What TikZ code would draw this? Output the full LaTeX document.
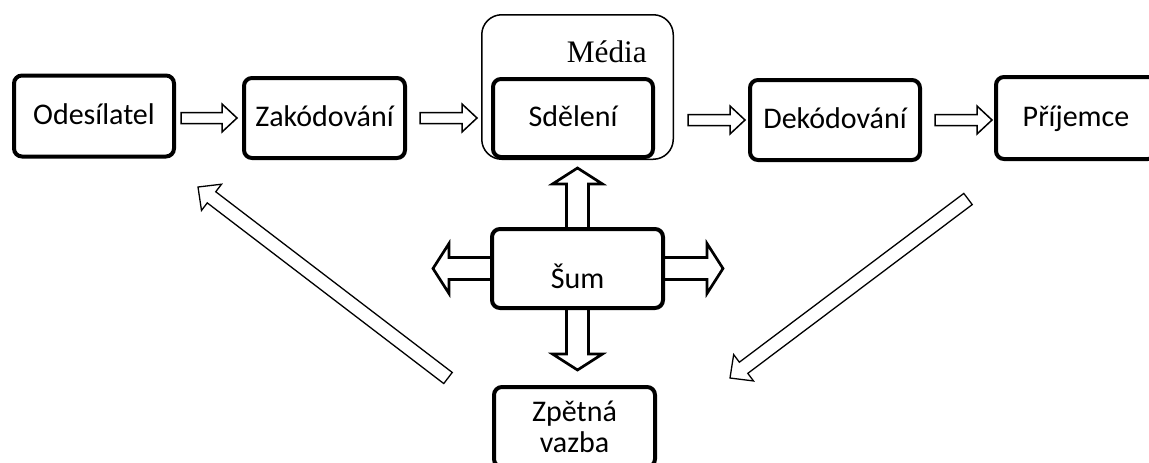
\documentclass[tikz,border=0pt]{standalone}
\usepackage{fontspec}
\setmainfont{Carlito}
\newfontfamily\mediafont{Liberation Serif}
\usetikzlibrary{calc,backgrounds}

\tikzset{
  block/.style={draw, line width=4pt, rounded corners=8pt, fill=white,
    inner sep=0pt, align=center},
  oneline/.style={block, text height=16pt, text depth=0pt},
  flow/.style={draw, line width=1.5pt, fill=white},
  noise/.style={draw, line width=2.7pt, fill=white},
}

\newcommand\blockarrow[5][flow]{%
  \coordinate (ba-s) at ($(#2)!#4!(#3)$);
  \coordinate (ba-e) at ($(#3)!#5!(#2)$);
  \coordinate (ba-h) at ($(ba-e)!\arrlen!(ba-s)$);
  \draw[#1] ($(ba-s)!\arrshaft!90:(ba-e)$) -- ($(ba-h)!\arrshaft!90:(ba-e)$)
    -- ($(ba-h)!\arrhead!90:(ba-e)$) -- (ba-e)
    -- ($(ba-h)!\arrhead!-90:(ba-e)$) -- ($(ba-h)!\arrshaft!-90:(ba-e)$)
    -- ($(ba-s)!\arrshaft!-90:(ba-e)$) -- cycle;
}

\begin{document}
\begin{tikzpicture}[x=1pt, y=-1pt, font=\fontsize{30}{31}\selectfont]
  \useasboundingbox (0,0) rectangle (1149,463);
  \clip (0,0) rectangle (1149,463);

  \node (odes) [oneline, minimum width=160pt, minimum height=81pt] at (94,116) {Odesílatel};
  \node (zak) [oneline, minimum width=161pt, minimum height=80pt] at (324.5,118) {Zakódování};
  \node (media) [draw, line width=1.5pt, rounded corners=20pt,
    minimum width=191.5pt, minimum height=144.5pt] at (577.5,87) {};
  \node (sdel) [oneline, minimum width=160pt, minimum height=78pt] at (573,118) {Sdělení};
  \node (medialabel) [anchor=base east, inner sep=0pt,
    font={\mediafont\fontsize{31.3}{36}\selectfont}] at (647,62) {Média};
  \node (dek) [oneline, minimum width=170pt, minimum height=80pt] at (835,120) {Dekódování};
  \node (prij) [oneline, minimum width=160pt, minimum height=82pt] at (1076,118) {Příjemce};
  \node (sum) [block, minimum width=171pt, minimum height=79pt,
    label={[yshift=-8pt]center:Šum}] at (577.5,268.5) {};
  \node (zpet) [block, minimum width=161pt, minimum height=80pt] at (574.5,427) {Zpětná\\vazba};

  \coordinate (noisel) at ($(sum.west)+(-57,0)$);
  \coordinate (noiser) at ($(sum.east)+(58,0)$);
  \coordinate (fbstart) at (448,378);
  \coordinate (fbend) at (198,187);
  \coordinate (recvstart) at (968,199);
  \coordinate (recvend) at (730,378);

  \def\arrshaft{5.5pt}\def\arrhead{14pt}\def\arrlen{15pt}
  \blockarrow{zak.west -| odes.east}{zak.west}{5pt}{5pt}
  \blockarrow{zak.east}{zak.east -| media.west}{13pt}{4pt}
  \blockarrow{dek.west -| media.east}{dek.west}{14pt}{3pt}
  \blockarrow{dek.east}{dek.east -| prij.west}{13pt}{2pt}

  \def\arrshaft{7pt}\def\arrhead{16.5pt}\def\arrlen{17pt}
  \blockarrow[flow, line width=1.3pt]{fbstart}{fbend}{0pt}{0pt}
  \blockarrow[flow, line width=1.3pt]{recvstart}{recvend}{0pt}{0pt}

  \begin{scope}[on background layer]
    \def\arrshaft{11pt}\def\arrhead{25pt}\def\arrlen{16pt}
    \blockarrow[noise]{sum.north}{sdel.south -| sum.north}{-4pt}{9pt}
    \blockarrow[noise]{sum.south}{zpet.north -| sum.south}{-4pt}{15pt}
    \blockarrow[noise]{sum.west}{noisel}{-4pt}{0pt}
    \blockarrow[noise]{sum.east}{noiser}{-4pt}{0pt}
  \end{scope}
\end{tikzpicture}
\end{document}
